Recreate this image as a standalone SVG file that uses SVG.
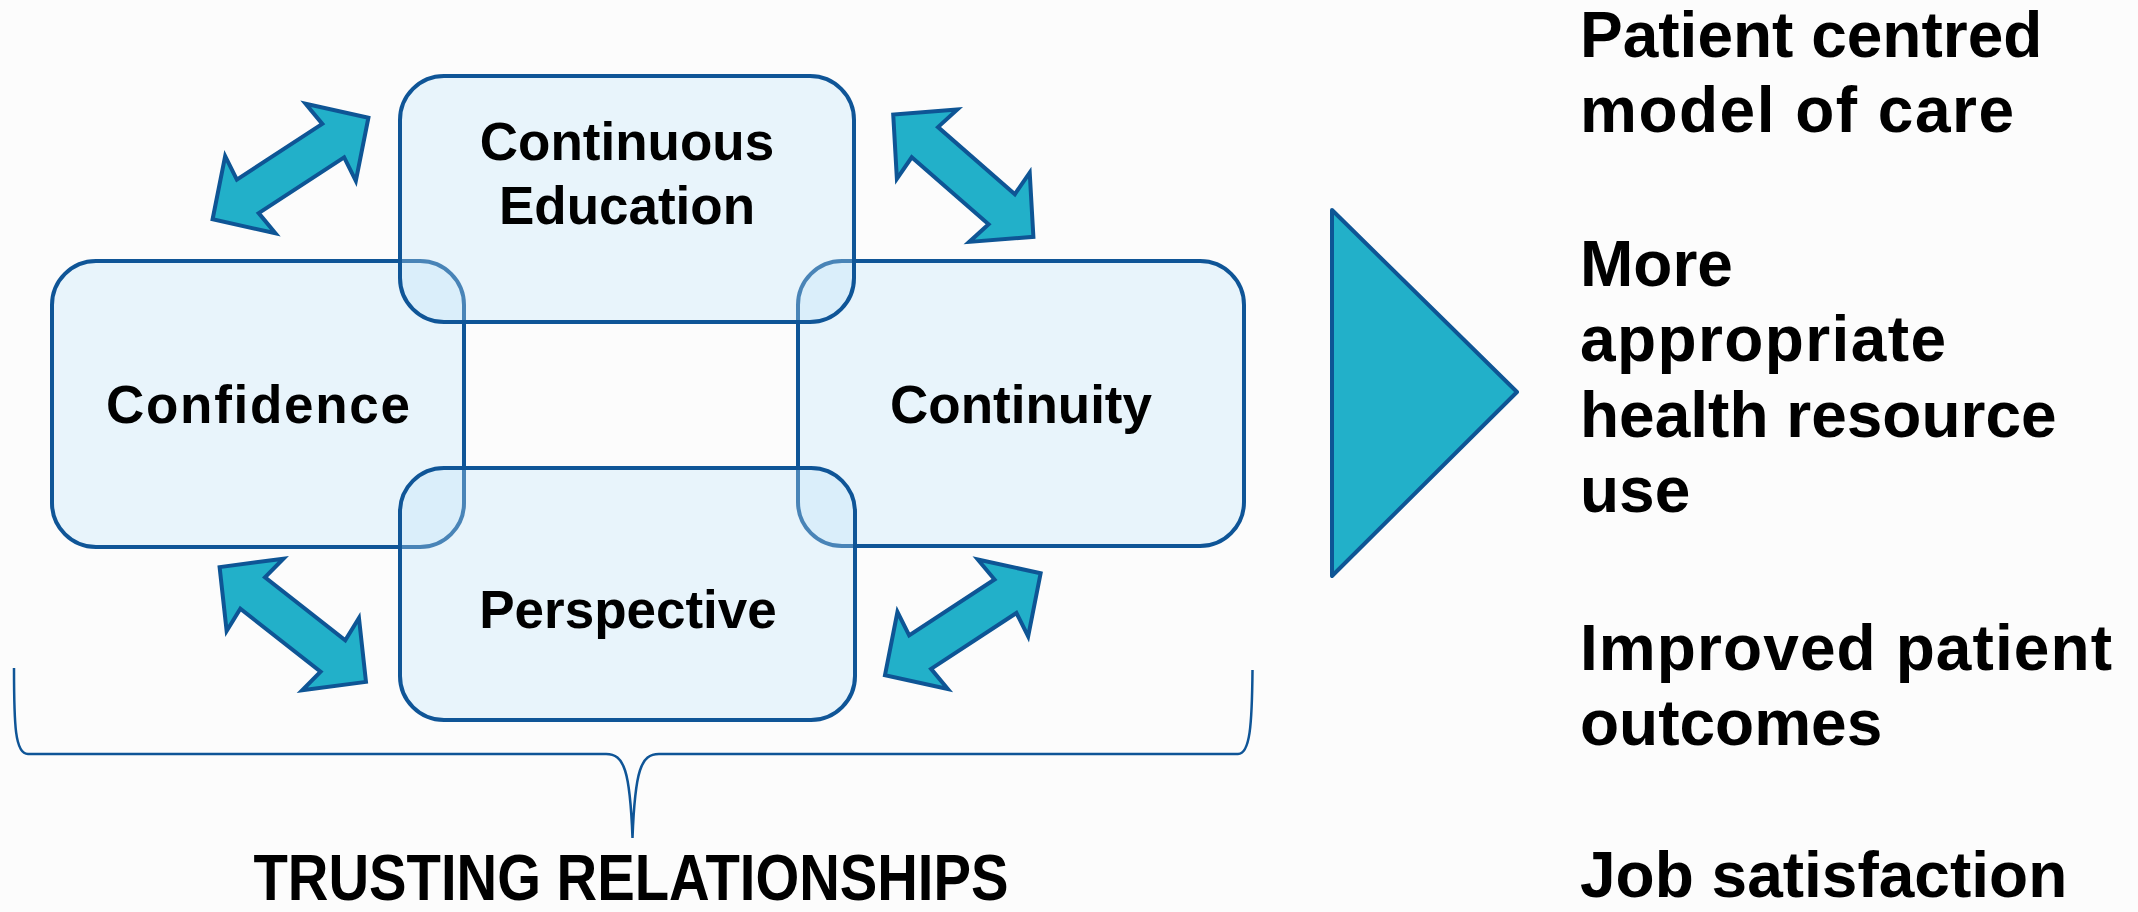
<svg xmlns="http://www.w3.org/2000/svg" width="2138" height="912" viewBox="0 0 2138 912">
<defs>
<style>
.box{fill:rgb(192,228,249);fill-opacity:0.33;stroke:#0f5597;stroke-width:4}
.lbl{font-family:"Liberation Sans",Arial,sans-serif;font-weight:bold;font-size:53px;fill:#000;text-anchor:middle}
.out{font-family:"Liberation Sans",Arial,sans-serif;font-weight:bold;font-size:64px;fill:#000}
.arr{fill:#22b0c9;stroke:#0e5595;stroke-width:4;stroke-linejoin:miter}
.brace{fill:none;stroke:#0f5597;stroke-width:2.5}
</style>
<polygon id="dblArrow" class="arr" points="93,0 48,-46 51,-20 -51,-20 -48,-46 -93,0 -48,46 -51,20 51,20 48,46"/>
</defs>
<rect x="0" y="0" width="2138" height="912" fill="#fcfcfc"/>

<g id="node-confidence">
<rect class="box" x="52" y="261" width="412" height="286" rx="44" ry="44"/>
<text class="lbl" x="258" y="423" textLength="304" lengthAdjust="spacing">Confidence</text>
</g>
<g id="node-continuity">
<rect class="box" x="798" y="261" width="446" height="285" rx="44" ry="44"/>
<text class="lbl" x="1021" y="423">Continuity</text>
</g>
<g id="node-continuous-education">
<rect class="box" x="400" y="76" width="454" height="246" rx="44" ry="44"/>
<text class="lbl" x="627" y="160">Continuous</text>
<text class="lbl" x="627" y="224">Education</text>
</g>
<g id="node-perspective">
<rect class="box" x="400" y="468" width="455" height="252" rx="44" ry="44"/>
<text class="lbl" x="628" y="628">Perspective</text>
</g>

<g id="connectors">
<use href="#dblArrow" transform="translate(290.5,168.5) rotate(-33.1)"/>
<use href="#dblArrow" transform="translate(963.3,175.7) rotate(41.1)"/>
<use href="#dblArrow" transform="translate(292.8,624.5) rotate(38.1)"/>
<use href="#dblArrow" transform="translate(962.8,624.2) rotate(-33.2)"/>
</g>

<g id="brace-trusting">
<path class="brace" d="M14,668 C14,725 15,754 28,754 L606,754 C624,754 630,770 632.5,838 C635,770 641,754 659,754 L1238,754 C1250,754 1252,725 1252.5,670"/>
<text class="out" x="631" y="900" text-anchor="middle" textLength="755" lengthAdjust="spacingAndGlyphs">TRUSTING RELATIONSHIPS</text>
</g>

<g id="node-result-arrow">
<polygon points="1332,210 1517,392 1332,576" fill="#22b0c9" stroke="#0e5595" stroke-width="4" stroke-linejoin="round"/>
</g>

<g id="node-outcomes">
<text class="out" x="1580" y="57">Patient centred</text>
<text class="out" x="1580" y="132" textLength="434" lengthAdjust="spacing">model of care</text>
<text class="out" x="1580" y="286">More</text>
<text class="out" x="1580" y="361" textLength="366" lengthAdjust="spacing">appropriate</text>
<text class="out" x="1580" y="437">health resource</text>
<text class="out" x="1580" y="512">use</text>
<text class="out" x="1580" y="670" textLength="532" lengthAdjust="spacing">Improved patient</text>
<text class="out" x="1580" y="745">outcomes</text>
<text class="out" x="1580" y="897">Job satisfaction</text>
</g>
</svg>
